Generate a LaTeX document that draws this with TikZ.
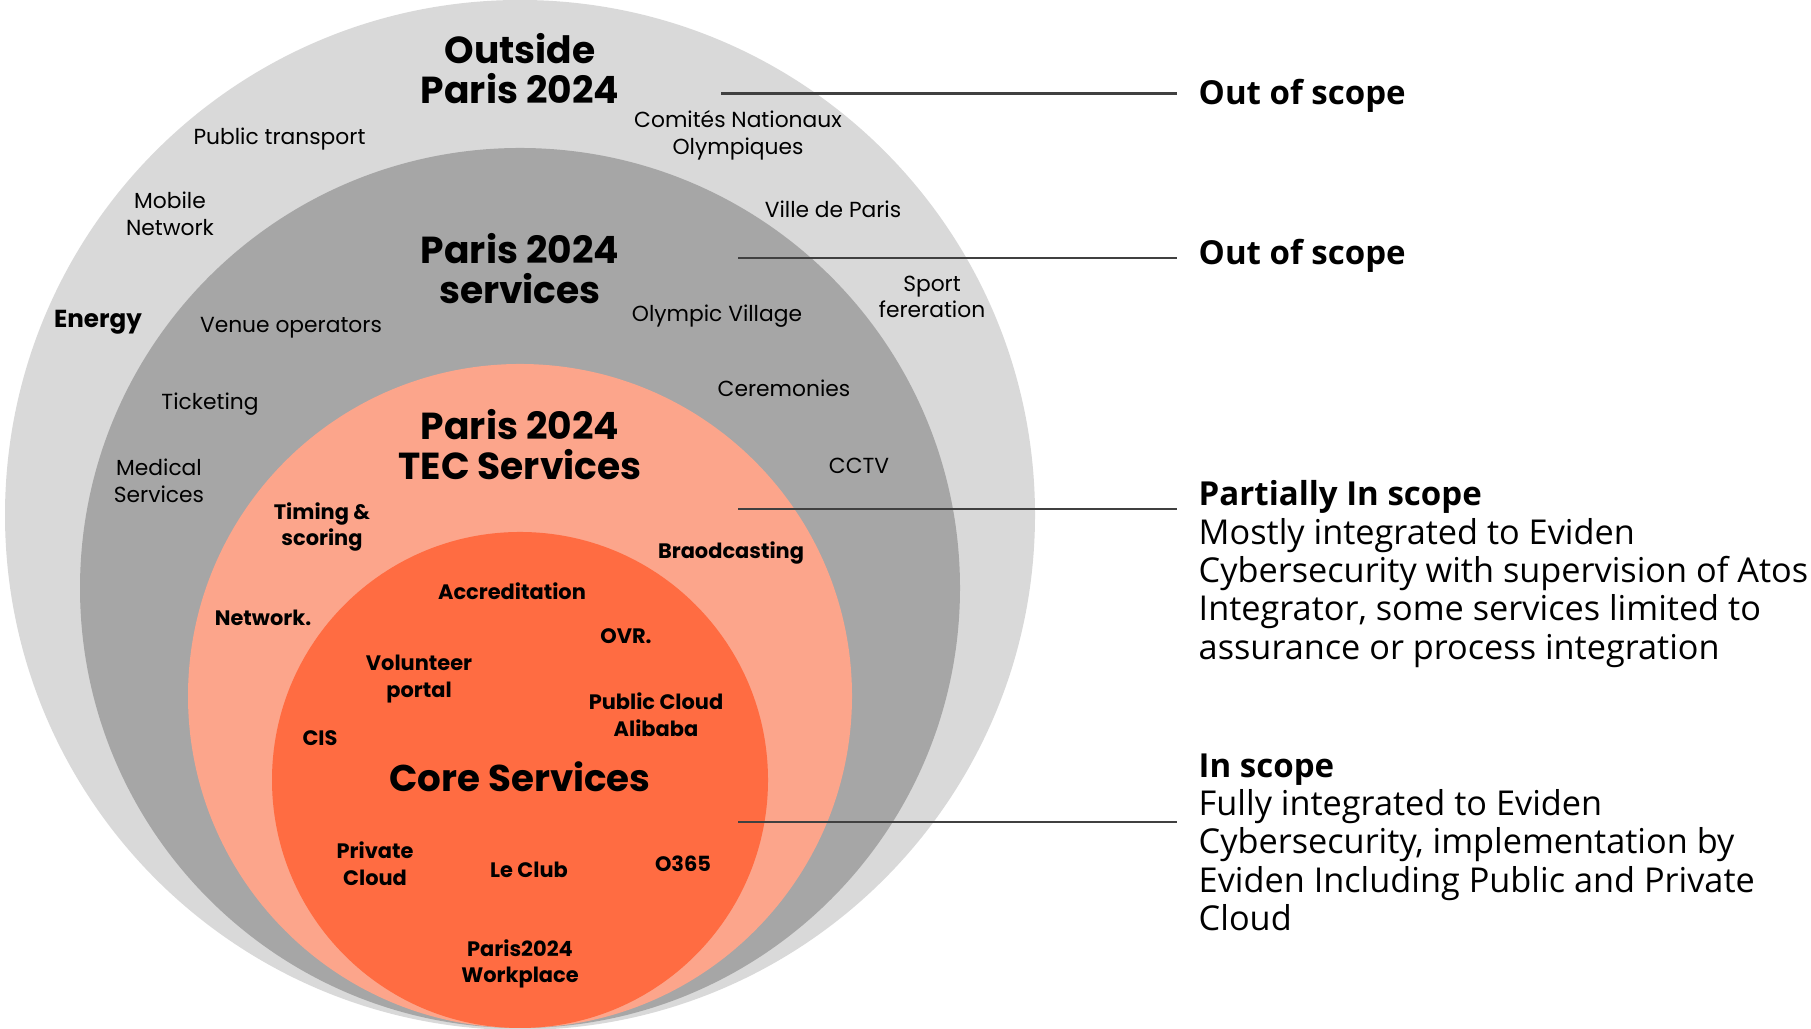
\documentclass[tikz,border=0pt]{standalone}
\usepackage{fontspec}
\setmainfont{Poppins}
\newfontfamily\sidefont{Open Sans}
\definecolor{outsidegray}{HTML}{D9D9D9}
\definecolor{servicegray}{HTML}{A6A6A6}
\definecolor{tecsalmon}{HTML}{FCA58B}
\definecolor{coreorange}{HTML}{FF6C42}
\definecolor{leadline}{HTML}{404040}
\tikzset{
  item/.style={align=center, inner sep=0pt, font=\fontsize{6.2}{7.6}\selectfont},
  bitem/.style={item, font=\fontsize{5.95}{7.6}\selectfont\bfseries},
  title/.style={align=center, inner sep=0pt, font=\fontsize{10.7}{11.4}\selectfont\bfseries},
  side/.style={anchor=west, align=left, inner sep=0pt, font=\sidefont\fontsize{9.75}{10.9}\selectfont},
  sidehead/.style={side, font=\sidefont\fontsize{9.4}{10.9}\selectfont\bfseries},
  lead/.style={draw=leadline, line width=0.6pt, shorten >=0.21cm}
}
\begin{document}
\begin{tikzpicture}
  \useasboundingbox (0,0) rectangle (18.11,10.29);
  % rings
  \fill[outsidegray] (5.2,5.14) circle (5.15);
  \fill[servicegray] (5.2,4.41) circle (4.40);
  \fill[tecsalmon] (5.2,3.33) circle (3.32);
  \fill[coreorange] (5.2,2.49) circle (2.48);
  % outside
  \node[title] (outside) at (5.2,9.60) {Outside\\Paris 2024};
  \node[item] (transport) at (2.795,8.90) {Public transport};
  \node[item] (cno) at (7.38,8.94) {Comités Nationaux\\Olympiques};
  \node[item] (mobile) at (1.70,8.15) {Mobile\\Network};
  \node[item] (ville) at (8.33,8.20) {Ville de Paris};
  \node[item] (sport) at (9.32,7.32) {Sport\\fereration};
  \node[bitem, font=\fontsize{7}{8}\selectfont\bfseries] (energy) at (0.98,7.07) {Energy};
  % paris 2024 services
  \node[title] (services) at (5.2,7.60) {Paris 2024\\services};
  \node[item] (venue) at (2.91,7.01) {Venue operators};
  \node[item] (village) at (7.17,7.125) {Olympic Village};
  \node[item] (ceremonies) at (7.84,6.41) {Ceremonies};
  \node[item] (ticketing) at (2.10,6.25) {Ticketing};
  \node[item] (cctv) at (8.59,5.635) {CCTV};
  \node[item] (medical) at (1.59,5.48) {Medical\\Services};
  % tec services
  \node[title] (tec) at (5.2,5.84) {Paris 2024\\TEC Services};
  \node[bitem] (timing) at (3.22,5.02) {Timing \&\\scoring};
  \node[bitem] (broadcast) at (7.31,4.76) {Braodcasting};
  \node[bitem] (network) at (2.63,4.11) {Network.};
  % core services
  \node[bitem] (accred) at (5.12,4.38) {Accreditation};
  \node[bitem] (ovr) at (6.26,3.93) {OVR.};
  \node[bitem] (volunteer) at (4.19,3.50) {Volunteer\\portal};
  \node[bitem] (alibaba) at (6.56,3.14) {Public Cloud\\Alibaba};
  \node[bitem] (cis) at (3.20,2.91) {CIS};
  \node[title, font=\fontsize{10.6}{12}\selectfont\bfseries] (core) at (5.2,2.52) {Core Services};
  \node[bitem] (private) at (3.75,1.65) {Private\\Cloud};
  \node[bitem] (club) at (5.29,1.59) {Le Club};
  \node[bitem] (o365) at (6.83,1.65) {O365};
  \node[bitem] (workplace) at (5.2,0.65) {Paris2024\\Workplace};
  % scope labels
  \node[sidehead] (scope1) at (11.98,9.33) {Out of scope};
  \node[sidehead] (scope2) at (11.98,7.73) {Out of scope};
  \node[side, anchor=north west] (scope3) at (11.98,5.49) {{\fontsize{9.4}{10.9}\selectfont\bfseries Partially In scope}\\Mostly integrated to Eviden\\Cybersecurity with supervision of Atos\\Integrator, some services limited to\\assurance or process integration};
  \node[side, anchor=north west] (scope4) at (11.98,2.76) {{\fontsize{9.4}{10.9}\selectfont\bfseries In scope}\\Fully integrated to Eviden\\Cybersecurity, implementation by\\Eviden Including Public and Private\\Cloud};
  \coordinate (s1) at (7.21,9.355);
  \coordinate (s2) at (7.38,7.714);
  \coordinate (s3) at (7.38,5.20);
  \coordinate (s4) at (7.38,2.07);
  \draw[lead] (s1) -- (s1 -| scope1.west);
  \draw[lead] (s2) -- (s2 -| scope2.west);
  \draw[lead] (s3) -- (s3 -| scope3.west);
  \draw[lead] (s4) -- (s4 -| scope4.west);
\end{tikzpicture}
\end{document}
